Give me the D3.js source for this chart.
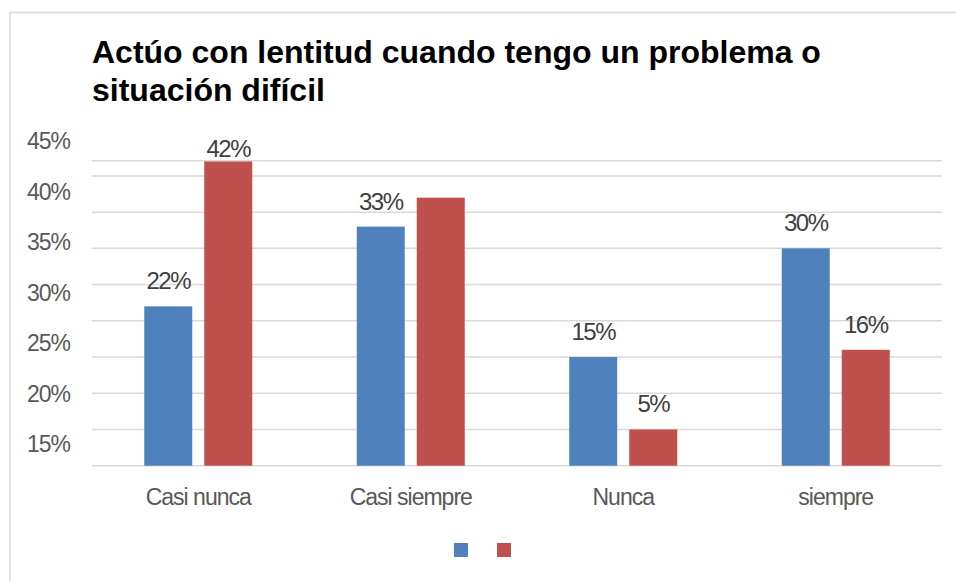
<!DOCTYPE html>
<html>
<head>
<meta charset="utf-8">
<script src="https://cdn.jsdelivr.net/npm/d3@7"></script>
<style>
    body { margin: 0; background: #fff; }
    svg { display: block; font-family: "Liberation Sans", Arial, sans-serif; }
    .title { font-size: 32px; font-weight: bold; fill: #000; }
    .ytick { font-size: 23px; fill: #595959; letter-spacing: -1px; }
    .xtick { font-size: 23px; fill: #595959; letter-spacing: -1px; }
    .value { font-size: 24px; fill: #404040; letter-spacing: -1.5px; }
</style>
</head>
<body>
<div id="chart"></div>
<script>
const categories = ['Casi nunca', 'Casi siempre', 'Nunca', 'siempre'];
const series = ['a', 'b'];
const valuesA = [22, 33, 15, 30];
const valuesB = [42, 37, 5, 16];
const labelsA = ['22%', '33%', '15%', '30%'];
const labelsB = ['42%', '', '5%', '16%'];
const yTickLabels = ['45%', '40%', '35%', '30%', '25%', '20%', '15%'];
const colors = ['#4f81bd', '#c0504d'];

const width = 956, height = 581;
const plot = { left: 92, right: 942, top: 160.7, bottom: 465.7 };

const svg = d3.select('#chart').append('svg')
    .attr('width', width)
    .attr('height', height);

// outer frame (only top and left edges are visible)
svg.append('path')
    .attr('d', 'M10,' + height + 'V12.5H' + width)
    .attr('fill', 'none')
    .attr('stroke', '#d9d9d9')
    .attr('stroke-width', 1.5);

svg.append('text').attr('class', 'title')
    .selectAll('tspan')
    .data(['Actúo con lentitud cuando tengo un problema o', 'situación difícil'])
    .join('tspan')
        .attr('x', 92)
        .attr('y', (d, i) => 63 + i * 37.5)
        .text(d => d);

const y = d3.scaleLinear()
    .domain([0, 42.1])
    .range([plot.bottom, plot.top]);

const x0 = d3.scaleBand()
    .domain(categories)
    .range([plot.left, plot.right])
    .padding(0);

const x1 = d3.scaleBand()
    .domain(series)
    .range([0, 108])
    .paddingInner(0.2);

// gridlines
const gridValues = d3.range(0, 41, 5).concat([y.domain()[1]]);
svg.append('g')
    .selectAll('line')
    .data(gridValues)
    .join('line')
        .attr('x1', plot.left)
        .attr('x2', plot.right)
        .attr('y1', d => y(d))
        .attr('y2', d => y(d))
        .attr('stroke', '#d9d9d9')
        .attr('stroke-width', 1.5);

// y tick labels as they appear in the picture
const yLab = d3.scalePoint()
    .domain(yTickLabels)
    .range([140.7, 444]);

svg.append('g')
    .selectAll('text')
    .data(yTickLabels)
    .join('text')
        .attr('class', 'ytick')
        .attr('x', 70)
        .attr('y', d => yLab(d))
        .attr('dy', '0.36em')
        .attr('text-anchor', 'end')
        .text(d => d);

const rows = categories.map((c, i) => ({
    cat: c,
    bars: [
        { s: 'a', v: valuesA[i], label: labelsA[i] },
        { s: 'b', v: valuesB[i], label: labelsB[i] }
    ]
}));

const groups = svg.append('g')
    .selectAll('g')
    .data(rows)
    .join('g')
        .attr('transform', d => 'translate(' + (x0(d.cat) + x0.bandwidth() / 2 - 54) + ',0)');

groups.selectAll('rect')
    .data(d => d.bars)
    .join('rect')
        .attr('x', d => x1(d.s))
        .attr('width', x1.bandwidth())
        .attr('y', d => y(d.v))
        .attr('height', d => y(0) - y(d.v))
        .attr('fill', (d, i) => colors[i]);

groups.selectAll('text')
    .data(d => d.bars.filter(b => b.label))
    .join('text')
        .attr('class', 'value')
        .attr('x', d => x1(d.s) + x1.bandwidth() / 2)
        .attr('y', d => Math.max(y(d.v) - 17, plot.top - 4))
        .attr('text-anchor', 'middle')
        .text(d => d.label);

// category labels
svg.append('g')
    .selectAll('text')
    .data(categories)
    .join('text')
        .attr('class', 'xtick')
        .attr('x', d => x0(d) + x0.bandwidth() / 2)
        .attr('y', 505)
        .attr('text-anchor', 'middle')
        .text(d => d);

// legend swatches (no text in the original)
const legend = svg.append('g')
    .attr('transform', 'translate(454,543)');

legend.selectAll('rect')
    .data(series)
    .join('rect')
        .attr('x', (d, i) => i * 43)
        .attr('width', 14)
        .attr('height', 14)
        .attr('fill', (d, i) => colors[i]);
</script>
</body>
</html>
